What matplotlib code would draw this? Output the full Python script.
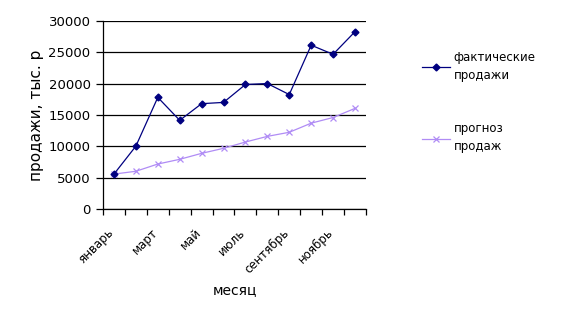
import numpy as np
import matplotlib.pyplot as plt
from matplotlib.lines import Line2D

months = ['январь', 'февраль', 'март', 'апрель', 'май', 'июнь',
          'июль', 'август', 'сентябрь', 'октябрь', 'ноябрь', 'декабрь']
fact_sales = [5600, 10050, 17800, 14150, 16800, 17000,
              19850, 20000, 18250, 26100, 24650, 28250]
forecast_sales = [5600, 6050, 7200, 7950, 8900, 9700,
                  10700, 11600, 12250, 13700, 14600, 16050]
yticks = [0, 5000, 10000, 15000, 20000, 25000, 30000]

fact_color = '#000080'
forecast_color = '#b08cf5'

fig = plt.figure(figsize=(5.63, 3.23), dpi=100)
ax = fig.add_axes([0.183, 0.352, 0.467, 0.584])

x = np.arange(len(months))
ax.plot(x, fact_sales, color=fact_color, lw=0.9, marker='D', ms=3.5,
        zorder=3)
ax.plot(x, forecast_sales, color=forecast_color, lw=0.9, marker='x', ms=5,
        mew=0.9, zorder=2)

ax.set_xlim(-0.5, len(months) - 0.5)
ax.set_ylim(0, 30000)
ax.set_yticks(yticks)
ax.set_yticklabels([str(v) for v in yticks], fontsize=9.5)
ax.yaxis.grid(True, color='black', lw=0.9)
ax.set_axisbelow(True)

# tick marks between categories, labels for every second month
ax.set_xticks(np.arange(-0.5, len(months), 1.0))
ax.set_xticklabels([])
ax.set_xticks(x[::2] - 0.3, minor=True)
ax.set_xticklabels(months[::2], minor=True, rotation=45, ha='right',
                   rotation_mode='anchor', fontsize=8.5)
ax.tick_params(axis='x', which='major', length=4, width=0.9, direction='out')
ax.tick_params(axis='x', which='minor', length=0, pad=12)
ax.tick_params(axis='y', length=5, width=0.9, pad=4)

for side in ('top', 'right'):
    ax.spines[side].set_visible(False)
for side in ('left', 'bottom'):
    ax.spines[side].set_linewidth(0.9)

ax.set_ylabel('продажи, тыс. р', fontsize=11, labelpad=3)
ax.set_xlabel('месяц', fontsize=10, labelpad=5)

handles = [
    Line2D([], [], color=fact_color, lw=0.9, marker='D', ms=3.5),
    Line2D([], [], color=forecast_color, lw=0.9, marker='x', ms=5, mew=0.9),
]
leg = fig.legend(handles, ['фактические\nпродажи', 'прогноз\nпродаж'],
                 loc='upper left', bbox_to_anchor=(0.73, 0.875),
                 frameon=False, fontsize=8.5, handlelength=2.4,
                 handletextpad=0.3, labelspacing=3.4)
for t in leg.get_texts():
    t.set_linespacing(1.5)

fig.savefig('out.png', dpi=100)
